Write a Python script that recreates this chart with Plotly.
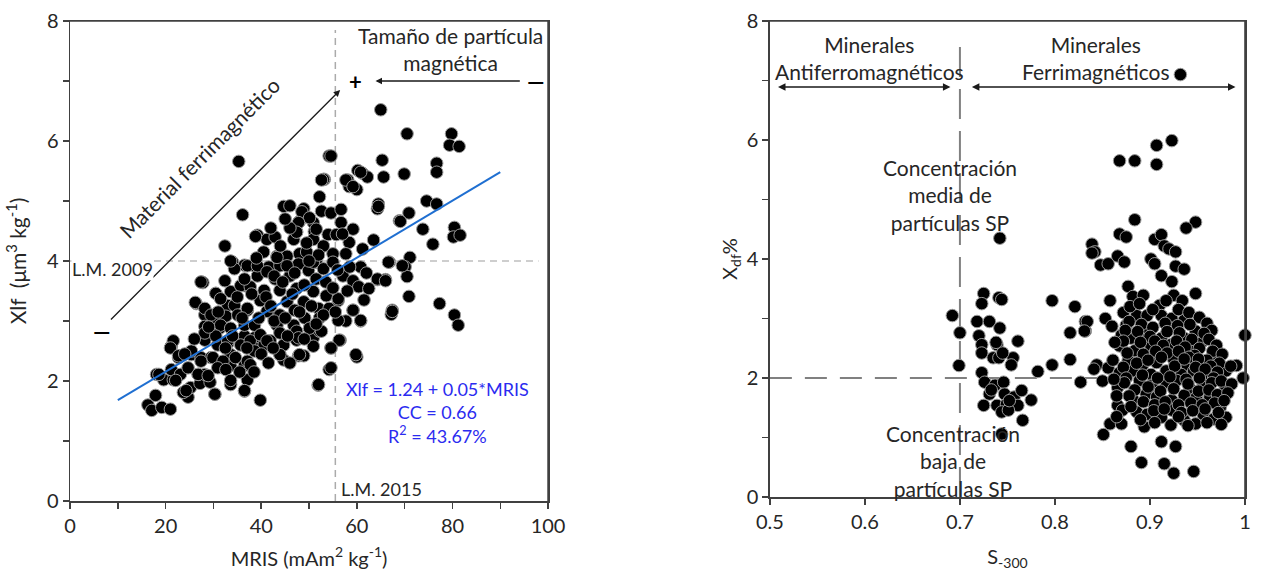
import plotly.graph_objects as go

# ---------------- Left panel data: MRIS vs Xlf ----------------
mris = [35.3,36.1,32.4,65.0,70.5,79.8,79.4,81.4,54.2,65.3,76.7,76.7,60.2,61.2,62.2,65.6,69.9,53.2,58.1,58.4,60.0,52.2,74.6,76.7,64.5,64.3,70.9,68.9,73.8,80.4,80.2,81.6,75.9,66.8,71.1,70.1,70.5,64.3,66.0,
        77.3,70.9,67.4,67.2,80.4,81.2,60.0,54.2,51.9,54.6,56.5,60.8,57.7,59.2,56.1,
        16.3,17.1,19.2,21.0,17.9,39.8,36.5,30.3,24.7,23.7,25.2,27.2,29.3,33.6,37.1,18.1,19.6,21.6,21.2,21.2,21.6,22.7,23.1,25.4,27.4,26.8,28.2,29.5,26.4,27.5,28.2,28.2,28.2,30.9,31.3,30.9,30.5,33.0,33.0,33.6,36.5,33.6,33.6,36.5,36.5,38.6,38.6,40.6,42.7,43.3,43.9,44.7,47.8,48.9,47.4,50.1,50.9,52.2,41.9,
        34.0,36.5,34.4,27.8,30.5,35.7,26.2,28.2,31.5,34.4,29.5,32.6,35.1,37.1,31.5,33.6,36.5,28.2,30.5,33.0,35.7,37.7,21.0,22.7,25.4,27.4,29.9,32.0,34.6,37.1,24.7,26.8,28.9,30.9,32.6,33.6,36.5,30.3,24.3,22.1,18.6,
        54.6,60.8,53.0,57.7,59.2,64.5,44.7,46.0,48.9,52.6,54.6,56.7,48.0,50.9,56.7,69.1,47.4,51.1,54.0,55.7,59.2,39.2,41.2,42.9,46.8,50.9,53.0,58.4,61.2,43.3,45.4,48.0,51.5,55.0,57.7,38.6,41.6,43.9,47.8,53.0,55.0,60.8,66.6,69.5,39.2,42.9,46.0,49.9,57.1,59.2,64.3,66.0,60.4,62.5,37.7,40.6,43.9,47.4,50.9,53.6,56.1,39.8,45.4,48.9,59.2,67.4,37.1,41.2,43.9,47.0,52.0,54.2,38.6,42.7,46.8,49.1,52.2,56.1,60.8,39.8,43.9,47.4,50.1,52.6,56.3,41.2,44.7,47.8,50.9,54.6,38.6,43.9,48.0,59.8,54.6,37.7,52.0,
        48.5,38.8,50.1,51.5,47.8,47.4,52.6,49.5,43.3,33.6,37.1,39.2,41.2,45.4,50.9,27.4,32.4,36.5,42.7,
        35.0,38.0,41.0,44.5,46.5,49.0,51.5,53.5,55.0,36.0,39.5,42.0,45.0,48.0,50.5,53.0,55.5,34.0,37.0,40.0,42.5,45.5,49.0,51.5,44.0,46.0,49.5,52.0,40.5,42.0,45.0,39.0,57.0,58.5,56.0,31.0,32.5,29.0,26.0,24.0,35.5,38.5,41.5,46.0,58.0,61.5,62.0,63.5,50.0,47.0]
xlf = [5.66,4.77,4.25,6.52,6.12,6.12,5.93,5.91,5.75,5.68,5.63,5.48,5.51,5.46,5.40,5.40,5.45,5.36,5.35,5.24,5.19,5.07,5.00,4.95,4.95,4.87,4.80,4.67,4.53,4.56,4.40,4.43,4.28,3.98,4.06,3.90,3.74,3.69,3.69,
       3.29,3.41,3.18,3.11,3.10,2.93,2.40,2.19,1.93,2.55,2.68,3.00,3.00,3.18,3.34,
       1.60,1.51,1.56,1.53,1.76,1.68,1.83,1.78,1.73,1.81,1.89,1.96,1.98,1.94,2.02,2.11,2.02,2.02,2.19,2.58,2.67,2.39,2.11,2.44,2.39,2.11,2.11,2.39,3.29,3.65,3.10,2.91,2.68,3.01,2.88,2.60,3.46,3.26,2.63,2.44,2.26,2.26,3.49,3.59,2.75,2.72,2.55,2.60,3.05,2.93,2.44,2.35,2.42,2.42,2.68,2.88,2.72,2.83,2.67,
       3.98,3.93,3.87,3.64,3.46,3.59,3.31,3.21,3.37,3.26,3.10,3.08,3.10,3.18,2.93,2.88,2.93,2.80,2.75,2.67,2.60,2.67,2.55,2.42,2.50,2.33,2.39,2.33,2.39,2.33,2.22,2.11,2.09,2.22,2.19,2.01,1.84,1.78,1.84,2.01,2.11,
       5.75,5.48,5.36,5.35,5.24,4.91,4.91,4.92,4.87,4.83,4.80,4.86,4.66,4.64,4.64,4.66,4.49,4.49,4.44,4.44,4.53,4.43,4.36,4.40,4.36,4.36,4.25,4.31,4.20,4.08,4.08,4.12,3.98,4.12,4.12,3.92,3.90,3.92,3.95,3.87,3.98,3.90,3.98,3.92,3.75,3.70,3.75,3.84,3.75,3.67,3.70,3.67,3.57,3.54,3.57,3.51,3.51,3.54,3.49,3.42,3.37,3.34,3.32,3.32,3.18,3.16,3.21,3.16,3.10,3.18,3.21,3.21,2.93,3.00,2.93,3.05,3.05,3.01,3.01,2.77,2.80,2.83,2.88,2.83,2.68,2.67,2.60,2.72,2.58,2.55,2.50,2.44,2.44,2.44,2.22,2.27,1.94,
       4.82,4.41,4.72,4.53,4.64,4.48,5.35,4.15,4.06,4.00,3.92,3.92,3.82,3.92,3.98,3.65,3.67,3.70,3.75,
       3.40,3.45,3.40,3.65,3.45,3.60,3.70,3.65,3.55,3.05,3.05,3.25,3.05,3.15,3.25,3.10,3.15,2.75,2.55,2.45,2.55,2.75,2.70,2.95,4.25,4.55,4.30,4.10,4.15,4.55,4.70,4.05,4.45,3.90,3.85,3.15,2.55,2.90,2.70,2.45,2.15,2.15,2.30,2.30,3.50,3.35,3.80,4.35,4.00,3.80]

fit_x = [10, 90]
fit_y = [1.68, 5.48]
lm2015_x = [55.5, 55.5]
lm2015_y = [0, 7.85]
lm2009_x = [0, 98]
lm2009_y = [4, 4]

# ---------------- Right panel data: S-300 vs Xdf% ----------------
s300 = [0.932,0.923,0.907,0.907,0.868,0.884,0.742,0.884,0.948,0.938,0.868,0.875,0.839,0.842,0.848,0.856,0.866,0.873,0.905,0.912,0.915,0.920,0.927,0.901,0.905,0.927,0.936,0.912,0.923,0.877,
        0.882,0.893,0.925,0.934,0.948,0.858,0.910,0.853,0.860,0.875,0.886,0.897,0.912,0.923,0.936,0.832,0.832,0.870,0.880,0.894,0.912,0.923,0.936,0.948,0.954,0.868,0.884,0.901,0.922,0.943,0.969,0.877,0.892,0.907,0.925,0.939,0.954,0.844,0.856,0.868,0.882,0.901,0.917,0.933,0.946,0.960,0.980,0.991,1.000,0.998,0.866,0.889,0.902,0.917,0.928,0.943,0.956,0.979,0.866,0.882,0.896,0.907,0.923,0.936,0.949,0.963,0.974,0.871,0.886,0.897,0.912,0.923,0.936,0.948,0.956,0.967,0.980,0.858,0.870,0.894,0.922,0.851,0.912,0.880,0.927,0.891,0.915,0.925,0.946,
        0.725,0.723,0.741,0.744,0.692,0.700,0.718,0.731,0.742,0.720,0.723,0.739,0.761,0.723,0.735,0.741,0.756,0.754,0.699,0.723,0.726,0.737,0.746,0.731,0.747,0.757,0.765,0.775,0.725,0.739,0.749,0.761,0.744,0.751,0.766,0.744,0.782,0.797,0.821,0.834,0.816,0.831,0.797,0.816,0.827,0.839,0.745,0.738,0.752,0.733,
        0.850,0.841,
        0.872,0.879,0.889,0.903,0.917,0.930,0.941,0.952,0.960,0.965,0.957,
        0.878,0.891,0.903,0.916,0.929,0.942,0.962,0.970,
        0.874,0.887,0.900,0.918,0.931,0.944,0.952,0.966,0.976,
        0.872,0.890,0.905,0.914,0.928,0.937,0.947,0.960,0.973,0.985,
        0.876,0.893,0.906,0.918,0.930,0.941,0.951,0.964,0.971,
        0.872,0.886,0.898,0.912,0.926,0.936,0.948,0.958,0.967,
        0.875,0.892,0.908,0.921,0.938,0.952,0.965,0.975,0.986,
        0.873,0.884,0.898,0.911,0.925,0.940,0.951,0.962,0.971,0.982,
        0.878,0.893,0.905,0.916,0.930,0.943,0.955,0.968,0.978,
        0.880,0.904,0.915,0.933,0.945,0.958,0.972,
        0.890,0.905,0.930,0.940,0.960,0.975,
        0.863,0.861,0.862,0.865,0.865]
xdf = [7.10,5.99,5.91,5.59,5.65,5.65,4.35,4.66,4.62,4.52,4.42,4.37,4.25,4.12,3.90,3.92,4.05,3.95,4.33,4.41,4.22,4.17,4.12,4.00,3.92,3.88,3.83,3.72,3.62,3.54,
       3.37,3.39,3.39,3.30,3.42,3.30,3.22,3.00,2.87,2.89,3.05,3.05,3.05,3.00,2.97,2.95,2.79,2.72,2.67,2.75,2.67,2.84,2.67,2.79,2.59,2.54,2.46,2.54,2.56,2.46,2.34,2.29,2.21,2.26,2.31,2.22,2.26,2.22,2.17,2.09,2.12,2.06,2.12,2.06,2.12,2.06,2.12,2.21,2.72,2.00,1.84,1.96,1.88,1.93,1.96,1.81,1.89,1.88,1.54,1.64,1.73,1.68,1.63,1.71,1.68,1.68,1.51,1.46,1.43,1.39,1.34,1.46,1.29,1.23,1.39,1.31,1.34,1.23,1.23,1.18,1.21,1.05,0.93,0.85,0.85,0.58,0.56,0.40,0.43,
       3.42,3.25,3.35,3.32,3.05,2.76,2.95,2.95,2.84,2.71,2.56,2.56,2.62,2.42,2.34,2.34,2.34,2.22,2.21,2.09,1.93,1.88,1.93,1.73,1.73,1.68,1.79,1.63,1.54,1.54,1.56,1.54,1.43,1.46,1.29,1.06,2.11,3.30,3.20,2.95,2.76,2.79,2.22,2.31,1.93,4.10,2.42,2.60,1.62,1.80,
       1.95,2.15,
       3.10,3.20,3.25,3.15,3.30,3.15,3.10,3.02,2.92,2.80,2.75,
       2.95,2.90,2.85,2.92,2.88,2.90,2.65,2.55,
       2.80,2.78,2.70,2.78,2.76,2.65,2.50,2.45,2.40,
       2.62,2.60,2.62,2.55,2.62,2.52,2.38,2.30,2.25,2.20,
       2.42,2.40,2.45,2.42,2.45,2.35,2.32,2.20,2.10,
       2.18,2.25,2.30,2.35,2.20,2.32,2.18,2.15,2.00,
       2.00,2.05,2.00,2.02,1.98,2.00,1.92,1.95,1.90,
       1.92,1.80,1.85,1.78,1.82,1.90,1.78,1.80,1.72,1.75,
       1.70,1.60,1.55,1.60,1.55,1.58,1.55,1.58,1.62,
       1.52,1.45,1.48,1.42,1.45,1.48,1.42,
       1.30,1.25,1.35,1.20,1.25,1.22,
       2.60,2.30,1.98,1.70,1.35]

vline_x = [0.7, 0.7]
vline_y = [0, 7.6]
hline_x = [0.5, 0.848]
hline_y = [2, 2]

left_xrange = [0, 100]
right_xrange = [0.5, 1.0]
yrange = [0, 8]
left_xticks = [0, 20, 40, 60, 80, 100]
right_xticks = [0.5, 0.6, 0.7, 0.8, 0.9, 1.0]
right_xticktext = ["0.5", "0.6", "0.7", "0.8", "0.9", "1"]
yticks = [0, 2, 4, 6, 8]

FONT = "Lato"
TXT = "#262626"
AX = "#404040"

fig = go.Figure()

marker = dict(size=12.5, color="black", line=dict(color="#9a9a9a", width=1))

fig.add_trace(go.Scatter(x=lm2009_x, y=lm2009_y, mode="lines", xaxis="x", yaxis="y",
                         line=dict(color="#BFBFBF", width=1.5, dash="7px,5px"), showlegend=False, hoverinfo="skip"))
fig.add_trace(go.Scatter(x=lm2015_x, y=lm2015_y, mode="lines", xaxis="x", yaxis="y",
                         line=dict(color="#ABABAB", width=1.5, dash="7px,5px"), showlegend=False, hoverinfo="skip"))
fig.add_trace(go.Scatter(x=mris, y=xlf, mode="markers", xaxis="x", yaxis="y", marker=marker,
                         cliponaxis=False, showlegend=False))
fig.add_trace(go.Scatter(x=fit_x, y=fit_y, mode="lines", xaxis="x", yaxis="y",
                         line=dict(color="#1F6FD1", width=2), showlegend=False))

fig.add_trace(go.Scatter(x=vline_x, y=vline_y, mode="lines", xaxis="x2", yaxis="y2",
                         line=dict(color="#808080", width=2, dash="30px,12px"), showlegend=False, hoverinfo="skip"))
fig.add_trace(go.Scatter(x=hline_x, y=hline_y, mode="lines", xaxis="x2", yaxis="y2",
                         line=dict(color="#808080", width=2, dash="22px,13px"), showlegend=False, hoverinfo="skip"))
fig.add_trace(go.Scatter(x=s300, y=xdf, mode="markers", xaxis="x2", yaxis="y2", marker=marker,
                         cliponaxis=False, showlegend=False))

# Top and right frame edges, built from the axis ranges (drawn as unclipped lines)
for xa, ya, xr in (("x", "y", left_xrange), ("x2", "y2", right_xrange)):
    fig.add_trace(go.Scatter(x=[xr[0], xr[1], xr[1]], y=[yrange[1], yrange[1], yrange[0]],
                             mode="lines", xaxis=xa, yaxis=ya, cliponaxis=False,
                             line=dict(color=AX, width=1.6), showlegend=False, hoverinfo="skip"))

axis_common = dict(showline=True, mirror=True, linecolor=AX, linewidth=1.5, ticks="outside",
                   ticklen=6, tickcolor=AX, tickwidth=1.5, showgrid=False, zeroline=False,
                   tickfont=dict(family=FONT, size=20, color=TXT))

W = 1270; H = 575
L = 70; T = 19; R = 8; B = 70
pw = W - L - R
ph = H - T - B

x1_dom = [0, (555 - L) / pw]
x2_dom = [(780 - L) / pw, 1]
y1_dom = [0, 1]
y2_dom = [(505 - 501) / ph, 1]

title_font = dict(family=FONT, size=20, color=TXT)
minor_y = dict(dtick=1, tick0=0, ticks="outside", ticklen=6, tickcolor=AX, tickwidth=1.5)

fig.update_layout(
    width=W, height=H,
    margin=dict(l=L, r=R, t=T, b=B),
    plot_bgcolor="white", paper_bgcolor="white",
    font=dict(family=FONT, color=TXT),
    xaxis=dict(axis_common, domain=x1_dom, range=left_xrange, tickvals=left_xticks,
               minor=dict(dtick=10, tick0=0, ticks="outside", ticklen=6, tickcolor=AX, tickwidth=1.5),
               title=dict(text="MRIS (mAm<sup>2</sup> kg<sup>-1</sup>)", font=title_font, standoff=16),
               anchor="y"),
    yaxis=dict(axis_common, domain=y1_dom, range=yrange, tickvals=yticks, minor=minor_y,
               title=dict(text="Xlf  (\u03bcm<sup>3</sup> kg<sup>-1</sup>)", font=dict(family=FONT, size=21, color=TXT), standoff=14),
               anchor="x"),
    xaxis2=dict(axis_common, domain=x2_dom, range=right_xrange, tickvals=right_xticks,
                ticktext=right_xticktext,
                title=dict(text="S<sub>-300</sub>", font=title_font, standoff=18),
                anchor="y2"),
    yaxis2=dict(axis_common, domain=y2_dom, range=yrange, tickvals=yticks, minor=minor_y,
                title=dict(text="X<sub>df</sub>%", font=title_font, standoff=4),
                anchor="x2"),
)

ann = []
big = dict(family=FONT, size=21, color=TXT)
# Left panel
ann.append(dict(x=27.0, y=5.73, xref="x", yref="y", text="Material ferrimagnético", textangle=-45,
                showarrow=False, font=big))
ann.append(dict(x=56.5, y=6.85, ax=8.25, ay=3.0, xref="x", yref="y", axref="x", ayref="y", text="",
                showarrow=True, arrowhead=2, arrowsize=1, arrowwidth=1.3, arrowcolor="#1a1a1a"))
ann.append(dict(x=63.9, y=7.0, ax=94.4, ay=7.0, xref="x", yref="y", axref="x", ayref="y", text="",
                showarrow=True, arrowhead=2, arrowsize=1, arrowwidth=1.3, arrowcolor="#1a1a1a"))
ann.append(dict(x=6.6, y=2.83, xref="x", yref="y", text="<b>\u2014</b>", showarrow=False,
                font=dict(family=FONT, size=22, color="black")))
ann.append(dict(x=97.5, y=7.0, xref="x", yref="y", text="<b>\u2014</b>", showarrow=False,
                font=dict(family=FONT, size=22, color="black")))
ann.append(dict(x=59.8, y=7.0, xref="x", yref="y", text="<b>+</b>", showarrow=False,
                font=dict(family=FONT, size=22, color="black")))
ann.append(dict(x=79.6, y=7.54, xref="x", yref="y", text="Tamaño de partícula<br>magnética",
                showarrow=False, font=big))
ann.append(dict(x=76.9, y=1.48, xref="x", yref="y",
                text="Xlf = 1.24 + 0.05*MRIS<br>CC = 0.66<br>R<sup>2</sup> = 43.67%",
                showarrow=False, font=dict(family=FONT, size=18, color="#2B2BF0")))
ann.append(dict(x=8.9, y=3.87, xref="x", yref="y", text="L.M. 2009", showarrow=False,
                bgcolor="white", borderpad=0, font=dict(family=FONT, size=18, color=TXT)))
ann.append(dict(x=65.2, y=0.2, xref="x", yref="y", text="L.M. 2015", showarrow=False,
                font=dict(family=FONT, size=18, color=TXT)))
# Right panel
ann.append(dict(x=0.605, y=7.38, xref="x2", yref="y2", text="Minerales<br>Antiferromagnéticos",
                showarrow=False, font=big))
ann.append(dict(x=0.843, y=7.38, xref="x2", yref="y2", text="Minerales<br>Ferrimagnéticos",
                showarrow=False, font=big))
ann.append(dict(x=0.690, y=6.89, ax=0.507, ay=6.89, xref="x2", yref="y2", axref="x2", ayref="y2", text="",
                showarrow=True, arrowside="end+start", arrowhead=2, arrowsize=1, arrowwidth=1.5, arrowcolor="#1a1a1a"))
ann.append(dict(x=0.990, y=6.89, ax=0.711, ay=6.89, xref="x2", yref="y2", axref="x2", ayref="y2", text="",
                showarrow=True, arrowside="end+start", arrowhead=2, arrowsize=1, arrowwidth=1.5, arrowcolor="#1a1a1a"))
ann.append(dict(x=0.690, y=5.08, xref="x2", yref="y2", text="Concentración<br>media de<br>partículas SP",
                showarrow=False, font=big))
ann.append(dict(x=0.693, y=0.61, xref="x2", yref="y2", text="Concentración<br>baja de<br>partículas SP",
                showarrow=False, font=big))

fig.update_layout(annotations=ann)

# Remove the default page margin so the 1270x575 figure sits exactly in the window.
fig.write_html("out.html", config={"displayModeBar": False, "staticPlot": True},
               post_script="document.body.style.margin='0';document.body.style.overflow='hidden';")
